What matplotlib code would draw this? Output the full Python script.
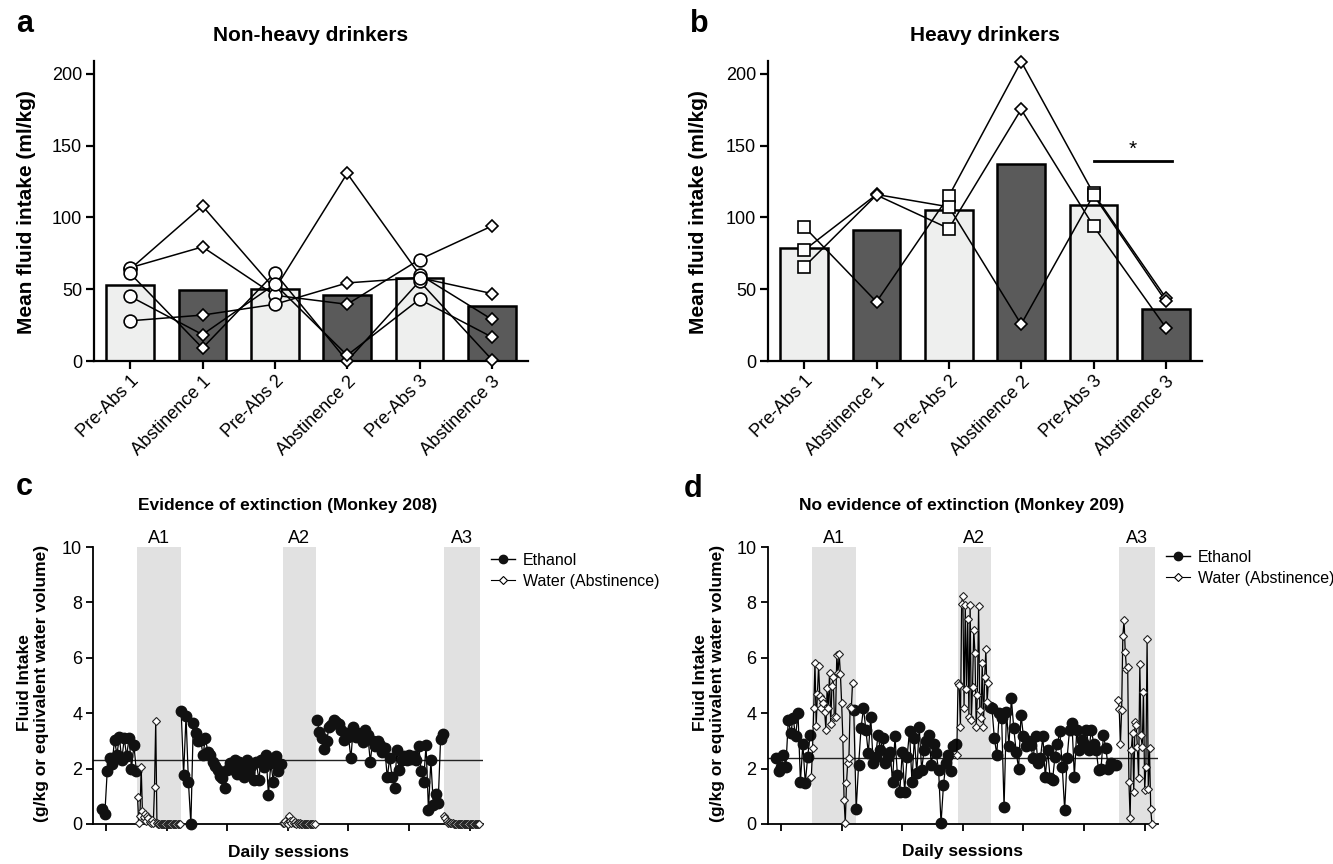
import numpy as np
import matplotlib
matplotlib.use("Agg")
import matplotlib.pyplot as plt
from matplotlib.lines import Line2D

plt.rcParams['font.family'] = ['Liberation Sans', 'DejaVu Sans']

# ---- panels a/b: group means and individual monkeys ----
conditions = ['Pre-Abs 1', 'Abstinence 1', 'Pre-Abs 2', 'Abstinence 2', 'Pre-Abs 3', 'Abstinence 3']
nonheavy_means = [52.8, 49.3, 50.0, 46.3, 58.1, 38.1]
nonheavy_monkeys = [
    [64, 108, 50, 130.7, 60.2, 29],
    [65, 79.5, 45.8, 39.5, 70.7, 94],
    [61, 9, 61.4, 0, 55.6, 1],
    [45, 18.4, 53.5, 4, 43, 16.7],
    [28, 32, 39.5, 54.4, 58, 47],
]
heavy_means = [78.8, 91.2, 105.1, 137.0, 108.4, 36.0]
heavy_monkeys = [
    [93.5, 41.2, 114.9, 208.6, 116.7, 44],
    [77.2, 116, 107.4, 25.6, 115.6, 41.6],
    [65.6, 115.6, 92.3, 175.3, 94, 23.3],
]

# ---- panels c/d: daily sessions (ethanol every 2nd session, water daily) ----
abst_periods = [(25.5, 62), (146, 173), (279, 308.5)]
abst_labels = ['A1', 'A2', 'A3']

c_eth1_start, c_eth1 = -3, [0.53, 0.36, 1.92, 2.4, 2.15, 3.05, 2.5, 3.15, 2.3, 3.1, 2.45, 3.12, 2.0, 2.85, 1.93]
c_wat1_start, c_wat1 = 26, [0.97, 0.03, 0.28, 2.07, 0.48, 0.25, 0.36, 0.12, 0.3, 0.2, 0.08, 0.05, 0.15, 0.02,
                            1.32, 3.72, 0.02] + [0.0] * 19
c_eth2_start, c_eth2 = 62, [4.08, 1.77, 3.9, 1.5, 0.0, 3.65, 3.3, 3.0, 3.05, 2.5, 3.1, 2.6, 2.5, 2.25, 2.1,
                            1.95, 1.75, 1.65, 1.3, 1.95, 2.2, 2.0, 2.3, 1.8, 2.25, 2.0, 1.7, 2.3, 1.85, 2.1,
                            1.6, 2.25, 1.6, 2.3, 2.05, 2.5, 1.05, 2.2, 1.53, 2.45, 1.9, 2.15]
c_wat2_start, c_wat2 = 146, [0.05, 0.02, 0.1, 0.03, 0.0, 0.28, 0.12, 0.05, 0.15, 0.02, 0.08, 0.0, 0.03, 0.0,
                             0.02] + [0.0] * 12
c_eth3_start, c_eth3 = 174, [3.75, 3.33, 3.1, 2.7, 3.0, 3.5, 3.57, 3.75, 3.7, 3.62, 3.4, 3.05, 3.3, 3.15, 2.37,
                             3.5, 3.15, 3.3, 3.1, 2.95, 3.4, 3.2, 2.25, 3.0, 2.8, 3.0, 2.85, 2.6, 2.73, 1.68,
                             2.37, 1.7, 1.3, 2.67, 1.95, 2.3, 2.45, 2.3, 2.5, 2.35, 2.45, 2.3, 2.8, 1.9, 1.53,
                             2.85, 0.5, 2.3, 0.7, 1.1, 0.75, 3.06, 3.24]
c_wat3_start, c_wat3 = 279, [0.29, 0.2, 0.1, 0.05, 0.08, 0.03, 0.05, 0.02] + [0.0] * 22
c_baseline = 2.3

d_eth1_start, d_eth1 = -4, [2.37, 1.9, 2.07, 2.5, 2.07, 3.76, 3.28, 3.82, 3.16, 4.0, 1.53, 2.9, 1.47, 2.43, 3.22]
d_wat1_start, d_wat1 = 25, [1.71, 2.73, 4.2, 5.83, 3.54, 4.7, 5.7, 4.63, 4.2, 4.5, 4.36, 4.05, 3.4, 4.9, 4.18,
                            5.45, 3.6, 5.0, 5.3, 3.85, 3.88, 6.1, 5.45, 6.13, 5.4, 4.36, 3.1, 0.87, 0.02, 1.47,
                            2.2, 2.37, 4.24, 4.18, 5.1]
d_eth2_start, d_eth2 = 60, [4.12, 0.53, 2.13, 3.46, 4.18, 3.4, 2.55, 3.88, 2.2, 2.43, 3.2, 2.67, 3.1, 2.2, 2.43,
                            2.6, 1.53, 3.16, 1.77, 1.17, 2.6, 1.17, 2.43, 3.34, 1.53, 3.1, 1.83, 3.5, 1.95, 2.67,
                            3.0, 3.22, 2.13, 2.9, 2.55, 1.95, 0.02, 1.4, 2.2, 2.5, 1.9, 2.82, 2.9]
d_wat2_start, d_wat2 = 145, [2.5, 5.08, 5.02, 3.5, 7.95, 8.24, 4.18, 7.9, 4.87, 7.4, 3.88, 7.9, 3.76, 4.96, 7.0,
                             6.17, 3.5, 4.66, 7.88, 4.12, 3.82, 5.83, 3.5, 5.3, 6.31, 4.39, 5.08]
d_eth3_start, d_eth3 = 172, [4.24, 4.18, 3.1, 2.5, 4.0, 3.82, 0.6, 4.06, 2.8, 4.54, 3.46, 2.6, 2.0, 3.94, 3.16,
                             2.8, 2.98, 2.85, 2.37, 3.16, 2.2, 2.37, 3.16, 1.7, 2.67, 1.65, 1.6, 2.43, 2.9, 3.34,
                             2.07, 0.5, 2.37, 3.4, 3.66, 1.7, 3.4, 2.67, 3.04, 2.9, 3.4, 2.67, 3.4, 2.9, 2.67,
                             1.95, 2.0, 3.2, 2.73, 2.0, 2.2, 2.13, 2.13]
d_wat3_start, d_wat3 = 278, [4.48, 4.15, 2.9, 4.12, 6.8, 7.35, 6.2, 5.6, 5.66, 1.53, 0.2, 2.67, 3.3, 1.17, 3.7,
                             3.58, 2.77, 1.65, 5.78, 3.2, 2.77, 4.78, 1.23, 2.07, 6.67, 1.25, 2.73, 0.53, 0.0]
d_baseline = 2.4

W, H = 1333, 864
fig = plt.figure(figsize=(W / 100, H / 100), dpi=100)


def px_axes(left, top, right, bottom):
    return fig.add_axes([left / W, 1 - bottom / H, (right - left) / W, (bottom - top) / H])


def bar_panel(ax, means, monkeys, pre_marker, pre_ms):
    x = np.arange(len(conditions))
    colors = ['#eeefee', '#5a5a5a'] * 3
    ax.bar(x, means, width=0.66, color=colors, edgecolor='black', linewidth=1.8, zorder=1)
    for vals in monkeys:
        ax.plot(x, vals, color='black', lw=1.1, zorder=2)
        ax.plot(x[0::2], vals[0::2], ls='none', marker=pre_marker, ms=pre_ms, mfc='white',
                mec='black', mew=1.2, zorder=3, clip_on=False)
        ax.plot(x[1::2], vals[1::2], ls='none', marker='D', ms=6.2, mfc='white',
                mec='black', mew=1.2, zorder=3, clip_on=False)
    ax.set_xlim(-0.5, 5.5)
    ax.set_ylim(0, 209)
    ax.set_yticks([0, 50, 100, 150, 200])
    ax.set_xticks(x)
    ax.set_xticklabels(conditions, rotation=45, ha='right', rotation_mode='anchor')
    for s in ['top', 'right']:
        ax.spines[s].set_visible(False)
    for s in ['left', 'bottom']:
        ax.spines[s].set_linewidth(1.6)
    ax.tick_params(axis='both', length=5.5, width=1.6, labelsize=13, pad=3)


def series_panel(ax, segments_eth, segments_wat, baseline, xlim):
    for (a0, a1), lab in zip(abst_periods, abst_labels):
        ax.axvspan(a0, a1, color='#e1e1e1', lw=0, zorder=0)
        ax.text((a0 + a1) / 2, 10.15, lab, ha='center', va='baseline', fontsize=13)
    ax.axhline(baseline, color='#222222', lw=1.0, zorder=1)
    for start, vals in segments_eth:
        xs = start + 2 * np.arange(len(vals))
        ax.plot(xs, vals, color='black', lw=0.9, marker='o', ms=7.5, mfc='#111111',
                mec='#111111', zorder=3, clip_on=False)
    for start, vals in segments_wat:
        xs = start + np.arange(len(vals))
        ax.plot(xs, vals, color='black', lw=0.9, marker='D', ms=4.3, mfc='white',
                mec='#222222', mew=0.8, zorder=4, clip_on=False)
    ax.set_xlim(*xlim)
    ax.set_ylim(0, 10)
    ax.set_yticks([0, 2, 4, 6, 8, 10])
    ax.set_xticks(np.arange(0, 301, 50))
    ax.set_xticklabels([])
    for s in ['top', 'right']:
        ax.spines[s].set_visible(False)
    for s in ['left', 'bottom']:
        ax.spines[s].set_linewidth(1.3)
        ax.spines[s].set_zorder(2)
    ax.tick_params(axis='both', length=5, width=1.3, labelsize=13, pad=3)
    handles = [Line2D([], [], color='black', lw=1, marker='o', ms=6, mfc='#111111', mec='#111111'),
               Line2D([], [], color='black', lw=0.8, marker='D', ms=4.5, mfc='white', mec='black', mew=0.8)]
    return handles


# panel a
ax_a = px_axes(94, 61, 528, 361)
bar_panel(ax_a, nonheavy_means, nonheavy_monkeys, 'o', 9.2)
# panel b
ax_b = px_axes(768, 61, 1202, 361)
bar_panel(ax_b, heavy_means, heavy_monkeys, 's', 9)
ax_b.plot([4.0, 5.08], [139, 139], color='black', lw=2)
ax_b.text(4.54, 141, '*', ha='center', va='bottom', fontsize=15)

# panel c
ax_c = px_axes(93.3, 547, 483, 824)
h = series_panel(ax_c,
                 [(c_eth1_start, c_eth1), (c_eth2_start, c_eth2), (c_eth3_start, c_eth3)],
                 [(c_wat1_start, c_wat1), (c_wat2_start, c_wat2), (c_wat3_start, c_wat3)],
                 c_baseline, (-10.5, 311))
ax_c.legend(h, ['Ethanol', 'Water (Abstinence)'], loc='upper left',
            bbox_to_anchor=(491 / W, 1 - 553 / H), bbox_transform=fig.transFigure,
            frameon=False, borderpad=0, borderaxespad=0, handlelength=1.5,
            handletextpad=0.5, labelspacing=0.35, fontsize=11.5)

# panel d
ax_d = px_axes(767.7, 547, 1158, 824)
h = series_panel(ax_d,
                 [(d_eth1_start, d_eth1), (d_eth2_start, d_eth2), (d_eth3_start, d_eth3)],
                 [(d_wat1_start, d_wat1), (d_wat2_start, d_wat2), (d_wat3_start, d_wat3)],
                 d_baseline, (-11, 311))
ax_d.legend(h, ['Ethanol', 'Water (Abstinence)'], loc='upper left',
            bbox_to_anchor=(1166 / W, 1 - 550 / H), bbox_transform=fig.transFigure,
            frameon=False, borderpad=0, borderaxespad=0, handlelength=1.5,
            handletextpad=0.5, labelspacing=0.35, fontsize=11.5)

# titles, panel letters and axis labels
def ftext(x, y, s, **kw):
    fig.text(x / W, 1 - y / H, s, **kw)


ftext(311, 41, 'Non-heavy drinkers', ha='center', va='baseline', fontsize=15, fontweight='bold')
ftext(985, 41, 'Heavy drinkers', ha='center', va='baseline', fontsize=15, fontweight='bold')
ftext(288, 510, 'Evidence of extinction (Monkey 208)', ha='center', va='baseline', fontsize=12.5, fontweight='bold')
ftext(962, 510, 'No evidence of extinction (Monkey 209)', ha='center', va='baseline', fontsize=12.5, fontweight='bold')

for lx, ly, letter in [(25, 32, 'a'), (699, 32, 'b'), (24, 495, 'c'), (693, 497, 'd')]:
    ftext(lx, ly, letter, ha='center', va='baseline', fontsize=22, fontweight='bold')

ftext(27, 212, 'Mean fluid intake (ml/kg)', ha='center', va='center', rotation=90, fontsize=15, fontweight='bold')
ftext(699, 212, 'Mean fluid intake (ml/kg)', ha='center', va='center', rotation=90, fontsize=15, fontweight='bold')
ftext(33, 683, 'Fluid Intake\n(g/kg or equivalent water volume)', ha='center', va='center', rotation=90,
      fontsize=12.5, fontweight='bold', linespacing=1.15)
ftext(709, 683, 'Fluid Intake\n(g/kg or equivalent water volume)', ha='center', va='center', rotation=90,
      fontsize=12.5, fontweight='bold', linespacing=1.15)
ftext(288, 857, 'Daily sessions', ha='center', va='baseline', fontsize=12.5, fontweight='bold')
ftext(962, 856, 'Daily sessions', ha='center', va='baseline', fontsize=12.5, fontweight='bold')

fig.savefig('out.png', dpi=100)
